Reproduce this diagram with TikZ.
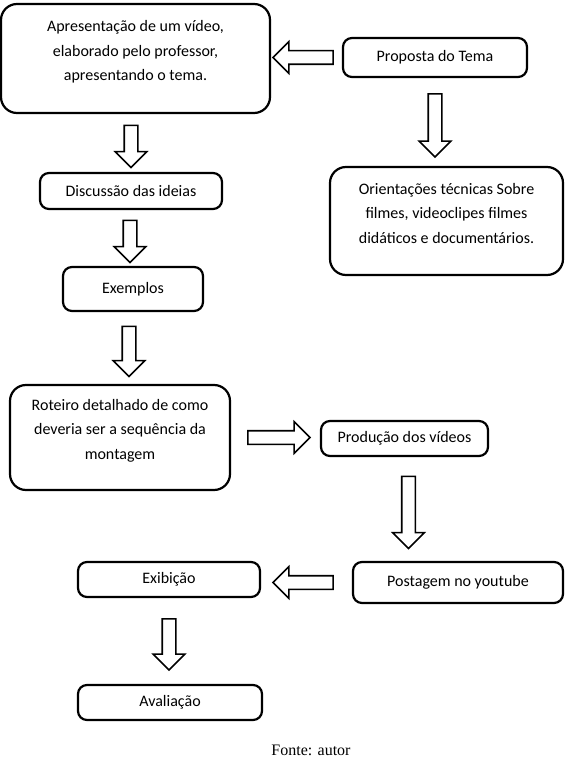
\documentclass[tikz,border=0pt]{standalone}
\usepackage{fontspec}
\setmainfont{Carlito}
\newfontfamily\captionfont{Liberation Serif}
\usetikzlibrary{calc, shapes.arrows}

\begin{document}
\begin{tikzpicture}[x=1pt, y=1pt,
    etapa/.style={draw, line width=2.2pt, rounded corners=9pt, align=center,
        font=\fontsize{16}{24.5}\selectfont, inner sep=2pt},
    grande/.style={etapa, rounded corners=16pt},
    seta/.style={single arrow, draw, line width=1.6pt, fill=white, inner sep=0pt,
        text height=6pt, text depth=6pt, single arrow head extend=9pt,
        single arrow tip angle=90, sloped, allow upside down, midway}]
    % Fix the page size
    \useasboundingbox (0,0) rectangle (570,-762);

    % Draw the boxes
    \node[grande, minimum width=269pt, minimum height=109pt] (apres) at (135.5,-58.5)
        {Apresentação de um vídeo,\\ elaborado pelo professor,\\ apresentando o tema.\\[-9pt]\mbox{}};
    \node[etapa, minimum width=184pt, minimum height=39pt] (tema) at (435,-57.5) {Proposta do Tema};
    \node[grande, minimum width=233pt, minimum height=108pt] (orient) at (446.5,-221)
        {Orientações técnicas Sobre\\ filmes, videoclipes filmes\\ didáticos e documentários.\\[-9pt]\mbox{}};
    \node[etapa, minimum width=182pt, minimum height=36pt] (discussao) at (131,-191) {Discussão das ideias};
    \node[etapa, minimum width=140pt, minimum height=44pt] (exemplos) at (133,-289) {Exemplos};
    \node[grande, minimum width=220pt, minimum height=105pt] (roteiro) at (120,-437.5)
        {Roteiro detalhado de como\\ deveria ser a sequência da\\ montagem\\[-8pt]\mbox{}};
    \node[etapa, minimum width=167pt, minimum height=35pt] (producao) at (404.5,-438.5) {Produção dos vídeos};
    \node[etapa, minimum width=210pt, minimum height=41pt] (postagem) at (458,-582.5) {Postagem no youtube};
    \node[etapa, minimum width=182pt, minimum height=35pt] (exibicao) at (169,-579.5) {Exibição};
    \node[etapa, minimum width=184pt, minimum height=35pt] (avaliacao) at (170,-702.5) {Avaliação};

    % Draw the arrows
    \path (tema.west) -- (tema.west -| apres.east) node[seta, minimum height=60pt] {};
    \path (tema.south) -- (tema.south |- orient.north) node[seta, minimum height=63pt] {};
    \path (discussao.north |- apres.south) -- (discussao.north) node[seta, minimum height=42pt] {};
    \path ([xshift=-1pt]discussao.south) -- ([xshift=-1pt]discussao.south |- exemplos.north) node[seta, minimum height=42pt] {};
    \path ([xshift=-4pt]exemplos.south) -- ([xshift=-4pt]exemplos.south |- roteiro.north) node[seta, minimum height=50pt] {};
    \path (roteiro.east) -- (roteiro.east -| producao.west) node[seta, minimum height=62pt] {};
    \path ([xshift=4pt]producao.south) -- ([xshift=4pt]producao.south |- postagem.north) node[seta, minimum height=72pt] {};
    \path (postagem.west) -- (postagem.west -| exibicao.east) node[seta, minimum height=60pt] {};
    \path (exibicao.south) -- (exibicao.south |- avaliacao.north) node[seta, minimum height=51pt] {};

    % Source line
    \node[font=\captionfont\fontsize{16}{19}\selectfont] (fonte) at (311,-750) {Fonte: autor};
\end{tikzpicture}
\end{document}
